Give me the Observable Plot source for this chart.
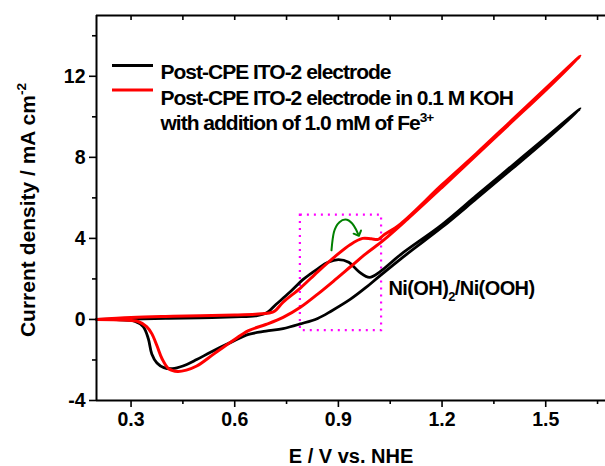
<!DOCTYPE html>
<html><head><meta charset="utf-8">
<script src="https://cdn.jsdelivr.net/npm/d3@7"></script>
<script src="https://cdn.jsdelivr.net/npm/@observablehq/plot@0.6"></script>
<style>body{margin:0;background:#fff;} svg{font-family:Arial,"Liberation Sans",sans-serif;}</style>
</head><body><div id="chart"></div>
<script>
// Cyclic voltammogram: post-CPE ITO-2 electrode (black)
const blackE = [0.20,0.30,0.40,0.50,0.60,0.66,0.69,0.72,0.76,0.80,0.84,0.87,0.90,0.93,0.96,0.99,1.02,1.08,1.20,1.30,1.40,1.50,1.60,
                1.50,1.40,1.30,1.20,1.10,1.02,0.98,0.935,0.88,0.84,0.79,0.74,0.69,0.64,0.59,0.53,0.49,0.45,0.42,0.395,0.375,0.36,0.35,0.335,0.31,0.27,0.20];
const blackJ = [0.00,0.02,0.05,0.08,0.13,0.18,0.30,0.75,1.35,2.00,2.50,2.82,2.95,2.82,2.35,2.08,2.35,3.20,4.68,6.12,7.55,8.98,10.40,
                8.85,7.40,5.97,4.55,3.25,2.15,1.58,1.00,0.42,0.05,-0.22,-0.45,-0.58,-0.74,-1.12,-1.62,-1.98,-2.30,-2.43,-2.38,-2.15,-1.70,-0.95,-0.35,-0.08,-0.02,0.00];
// with 1.0 mM Fe3+ (red)
const redE = [0.20,0.30,0.40,0.50,0.60,0.66,0.70,0.715,0.74,0.79,0.84,0.89,0.935,0.97,0.995,1.015,1.03,1.08,1.20,1.30,1.40,1.50,1.60,
              1.50,1.40,1.30,1.20,1.10,1.03,0.98,0.935,0.89,0.84,0.79,0.74,0.69,0.64,0.59,0.54,0.49,0.46,0.435,0.41,0.39,0.375,0.36,0.345,0.32,0.28,0.20];
const redJ = [0.00,0.10,0.15,0.18,0.22,0.26,0.32,0.40,0.85,1.55,2.35,3.10,3.70,4.00,3.98,3.95,4.15,4.72,6.65,8.20,9.80,11.40,13.00,
              11.32,9.72,8.12,6.52,4.95,3.90,3.25,2.60,1.95,1.25,0.60,0.10,-0.25,-0.55,-1.10,-1.70,-2.30,-2.50,-2.57,-2.45,-1.95,-1.30,-0.70,-0.35,-0.10,-0.03,0.00];
const xMajor = [0.3,0.6,0.9,1.2,1.5];
const xMinor = [0.45,0.75,1.05,1.35,1.65];
const yMajor = [-4,0,4,8,12];
const yMinor = [-2,2,6,10,14];
const boxE = [0.79,1.025];
const boxJ = [-0.55,5.15];
const arrowE = [0.880,0.887,0.903,0.925,0.945,0.957];
const arrowJ = [3.41,4.30,4.80,4.92,4.62,4.22];
const labelE = 1.045, labelJ = 1.53;
const seriesNames = ["Post-CPE ITO-2 electrode","Post-CPE ITO-2 electrode in 0.1 M KOH","with addition of 1.0 mM of Fe3+"];
const peakLabel = "Ni(OH)2/Ni(OOH)";
const xTitle = "E / V vs. NHE";
const yTitle = "Current density / mA cm-2";

const black = blackE.map((e,i)=>({E:e,J:blackJ[i]}));
const red = redE.map((e,i)=>({E:e,J:redJ[i]}));
const arrowPts = arrowE.map((e,i)=>({E:e,J:arrowJ[i]}));
const xDom = [0.2,1.673], yDom = [-4,15];
const fmt = d => String(d);
const legendDy = [49, 74.5, 100];

const chart = Plot.plot({
  width:605, height:466, marginLeft:96, marginRight:0, marginTop:15, marginBottom:66,
  style:{fontFamily:"Arial, 'Liberation Sans', sans-serif", background:"#fff", color:"#000", overflow:"visible"},
  x:{domain:xDom}, y:{domain:yDom},
  marks:[
    Plot.rect([{x1:boxE[0],x2:boxE[1],y1:boxJ[0],y2:boxJ[1]}],{x1:"x1",x2:"x2",y1:"y1",y2:"y2",fill:"none",stroke:"#ff00ff",strokeWidth:2.2,strokeDasharray:"2,5"}),
    Plot.line(black,{x:"E",y:"J",stroke:"#000",strokeWidth:2.8,curve:"catmull-rom"}),
    Plot.line(red,{x:"E",y:"J",stroke:"#ff0000",strokeWidth:3,curve:"catmull-rom"}),
    Plot.line(arrowPts,{x:"E",y:"J",stroke:"#008000",strokeWidth:2,curve:"natural",markerEnd:"arrow"}),
    Plot.axisX({ticks:xMajor,tickSize:7,tickPadding:5,tickFormat:d=>d.toFixed(1),fontSize:19.5,fontWeight:"bold",label:null,strokeWidth:1.6}),
    Plot.axisX({ticks:xMinor,tickSize:4,tickFormat:()=>"",label:null,strokeWidth:1.6}),
    Plot.axisX({anchor:"top",ticks:[...xMajor,...xMinor],tickSize:-4,tickFormat:()=>"",label:null,strokeWidth:1.6}),
    Plot.axisY({ticks:yMajor,tickSize:7,tickPadding:4,tickFormat:fmt,fontSize:19.5,fontWeight:"bold",label:null,strokeWidth:1.6}),
    Plot.axisY({ticks:yMinor,tickSize:4,tickFormat:()=>"",label:null,strokeWidth:1.6}),
    Plot.ruleX([xDom[0]],{strokeWidth:2}),
    Plot.ruleY([yDom[0]],{strokeWidth:2}),
    Plot.ruleY([yDom[1]],{strokeWidth:2}),
    Plot.text([peakLabel],{x:labelE,y:labelJ,textAnchor:"start",fontSize:20,fontWeight:"bold",fill:"#000",className:"condensed"}),
    Plot.text([xTitle],{frameAnchor:"bottom",lineAnchor:"middle",dy:56,fontSize:20,fontWeight:"bold",fill:"#000"}),
    Plot.text([yTitle],{frameAnchor:"left",textAnchor:"middle",dx:-68,dy:2,rotate:-90,fontSize:21,fontWeight:"bold",fill:"#000"}),
    ...seriesNames.map((s,i)=>Plot.text([s],{frameAnchor:"top-left",textAnchor:"start",dx:64,dy:legendDy[i],fontSize:21,fontWeight:"bold",fill:"#000",className:"legendtxt"}))
  ]
});
document.getElementById("chart").appendChild(chart);

// legend swatches
const svg = d3.select(chart);
const sw = svg.append("g");
sw.append("line").attr("x1",112).attr("x2",153).attr("y1",65.5).attr("y2",65.5).attr("stroke","#000").attr("stroke-width",2.8);
sw.append("line").attr("x1",112).attr("x2",153).attr("y1",90).attr("y2",90).attr("stroke","#ff0000").attr("stroke-width",3);
svg.selectAll(".condensed text").attr("letter-spacing","-0.6px");
svg.selectAll(".legendtxt text").attr("letter-spacing","-1px");

// rich text (superscripts / subscripts)
function rich(el, parts, base){
  el.textContent = "";
  let shift = 0;
  parts.forEach(([s,k])=>{
    const t = d3.select(el).append("tspan").text(s);
    let target = k==="sup" ? -0.42*base : k==="sub" ? 0.3*base : 0;
    t.attr("dy", target - shift);
    shift = target;
    if (k) t.attr("font-size", (0.65*base)+"px");
  });
}
svg.selectAll("text").each(function(){
  const s = this.textContent;
  if (s === seriesNames[2]) rich(this, [["with addition of 1.0 mM of Fe",null],["3+","sup"]], 21);
  else if (s === peakLabel) rich(this, [["Ni(OH)",null],["2","sub"],["/Ni(OOH)",null]], 20);
  else if (s === yTitle) rich(this, [["Current density / mA cm",null],["-2","sup"]], 21);
});
</script></body></html>
